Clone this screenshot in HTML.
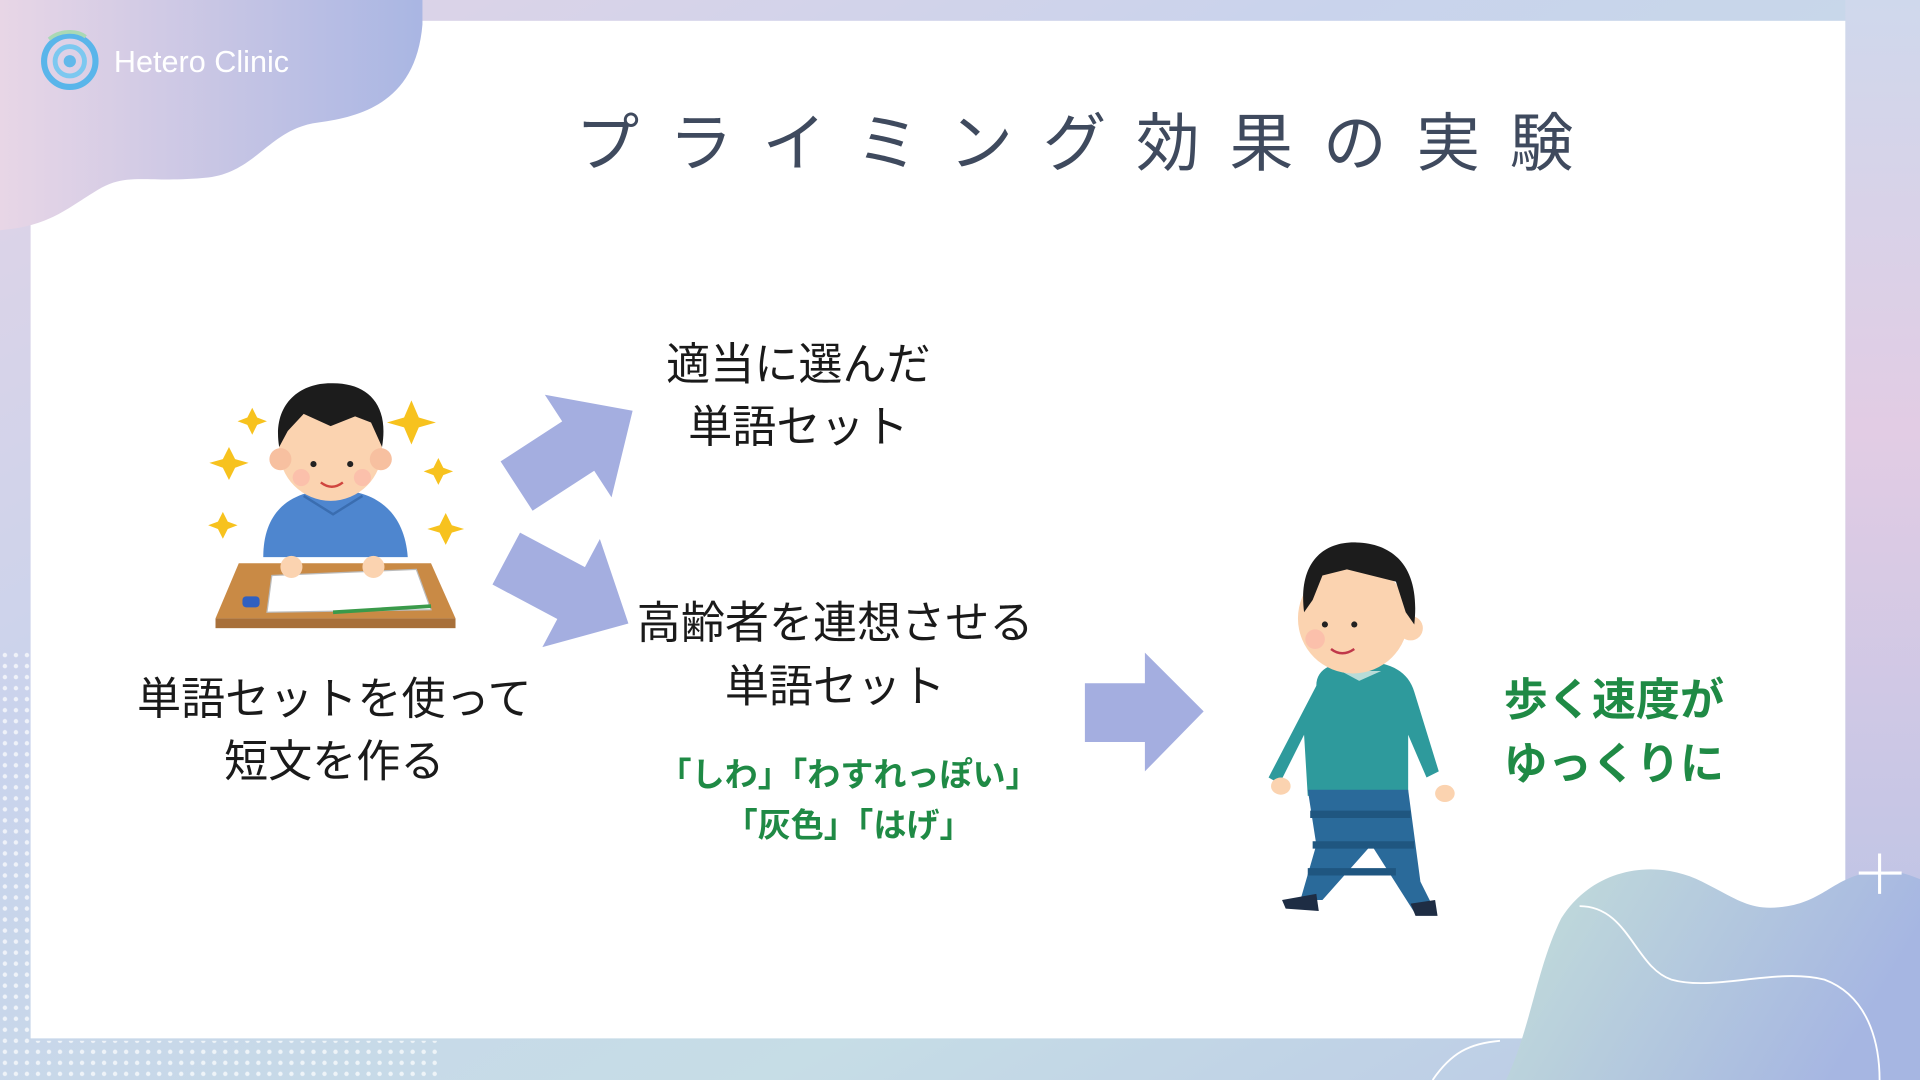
<!DOCTYPE html>
<html><head><meta charset="utf-8"><style>
html,body{margin:0;padding:0;width:1920px;height:1080px;overflow:hidden;background:#fff}
svg{display:block}
text{font-family:"Liberation Sans","Noto Sans CJK JP",sans-serif}
</style></head><body>
<svg width="1920" height="1080" viewBox="0 0 1568 882" xmlns="http://www.w3.org/2000/svg">
<defs>
<linearGradient id="bg" x1="0" y1="0" x2="1" y2="1">
<stop offset="0" stop-color="#e3d3e6"/><stop offset="0.35" stop-color="#c9d3ec"/><stop offset="0.7" stop-color="#c6dde6"/><stop offset="1" stop-color="#b9c6e6"/>
</linearGradient>
<linearGradient id="tl" x1="0" y1="0" x2="1" y2="0">
<stop offset="0" stop-color="#e8d6e6"/><stop offset="1" stop-color="#a9b6e3"/>
</linearGradient>
<linearGradient id="br" x1="0" y1="0" x2="1" y2="0.3">
<stop offset="0" stop-color="#c3ded9"/><stop offset="1" stop-color="#a6b6e2"/>
</linearGradient>
<linearGradient id="rs" x1="0" y1="0" x2="0" y2="1">
<stop offset="0" stop-color="#cfd8ec"/><stop offset="0.4" stop-color="#e2cce4"/><stop offset="1" stop-color="#b4c2e6"/>
</linearGradient>
<pattern id="dots" width="9" height="9" patternUnits="userSpaceOnUse"><circle cx="4" cy="4" r="1.8" fill="#fff" opacity="0.7"/></pattern>
</defs>
<rect width="1568" height="882" fill="url(#bg)"/>
<rect x="1507" y="0" width="61" height="882" fill="url(#rs)"/>
<rect x="0" y="530" width="25" height="320" fill="url(#dots)"/>
<rect x="0" y="850" width="360" height="32" fill="url(#dots)"/>
<rect x="25" y="17" width="1482" height="831" fill="#fff"/>
<!-- top-left blob -->
<path d="M0 0 H345 V20 C340 80 300 95 260 100 C220 105 210 140 170 145 C120 150 105 140 80 155 C55 170 40 185 0 188 Z" fill="url(#tl)"/>
<!-- bottom-right blob -->
<path d="M1230 882 C1250 840 1255 790 1275 750 C1300 710 1350 700 1390 720 C1420 735 1430 745 1460 740 C1490 735 1500 715 1530 712 C1550 710 1560 715 1568 718 V882 Z" fill="url(#br)"/>
<path d="M1290 740 C1330 740 1335 790 1365 800 C1400 810 1450 790 1490 800 C1530 815 1535 860 1535 882" fill="none" stroke="#fff" stroke-width="1.5"/>
<path d="M1170 882 C1185 860 1200 852 1225 850" fill="none" stroke="#fff" stroke-width="1.5"/>
<path d="M1535 697 V730 M1518 713 H1553" stroke="#fff" stroke-width="2.5"/>
<!-- logo -->
<circle cx="57" cy="50" r="21" fill="none" stroke="#59b5ea" stroke-width="5"/>
<circle cx="57" cy="50" r="12" fill="none" stroke="#7cc8f0" stroke-width="4"/>
<circle cx="57" cy="50" r="5" fill="#62b8ea"/>
<path d="M40 32 C48 25 62 24 70 30" fill="none" stroke="#a9d9b5" stroke-width="3"/>
<text x="93" y="59" font-size="25" fill="#fff">Hetero Clinic</text>
<!-- title -->
<text x="470" y="135" font-size="52" fill="#3f4a5e" textLength="815" lengthAdjust="spacing">プライミング効果の実験</text>
<!-- arrows -->
<g fill="#a4aee0">
<g transform="translate(468,367) rotate(-33)"><polygon points="-55,-24 5,-24 5,-50 58,0 5,50 5,24 -55,24"/></g>
<g transform="translate(462,482) rotate(28)"><polygon points="-55,-24 5,-24 5,-50 58,0 5,50 5,24 -55,24"/></g>
<polygon points="886,558 935,558 935,533 983,581 935,630 935,606 886,606"/>
</g>
<!-- studying boy -->
<g>
<g fill="#f7c21e">
<path d="M336 327 l6 14 14 4 -14 4 -6 14 -6 -14 -14 -4 14 -4z"/>
<path d="M206 333 l4 8 8 3 -8 3 -4 8 -4 -8 -8 -3 8 -3z"/>
<path d="M187 365 l5 10 11 3 -11 4 -5 10 -5 -10 -11 -4 11 -3z"/>
<path d="M358 374 l4 8 8 3 -8 3 -4 8 -4 -8 -8 -3 8 -3z"/>
<path d="M182 418 l4 8 8 3 -8 3 -4 8 -4 -8 -8 -3 8 -3z"/>
<path d="M364 419 l5 10 10 3 -10 3 -5 10 -5 -10 -10 -3 10 -3z"/>
</g>
<path d="M215 455 C215 415 240 400 272 400 C304 400 330 415 333 455 Z" fill="#4e86cf"/>
<path d="M248 405 L272 420 L296 405" fill="none" stroke="#3a6db0" stroke-width="2"/>
<ellipse cx="270" cy="367" rx="42" ry="42" fill="#fbd3b0"/>
<circle cx="229" cy="375" r="9" fill="#f7c0a0"/><circle cx="311" cy="375" r="9" fill="#f7c0a0"/>
<path d="M228 365 C222 330 245 312 272 313 C300 313 318 330 312 365 L303 345 L290 340 L270 348 L248 338 L235 352 Z" fill="#1c1c1c"/>
<circle cx="256" cy="379" r="2.5" fill="#222"/><circle cx="286" cy="379" r="2.5" fill="#222"/>
<path d="M262 394 Q271 401 280 394" fill="none" stroke="#d0453e" stroke-width="2"/>
<circle cx="246" cy="390" r="7" fill="#fbb4a8" opacity="0.6"/><circle cx="296" cy="390" r="7" fill="#fbb4a8" opacity="0.6"/>
<polygon points="195,460 352,460 372,505 176,505" fill="#c98a45"/>
<rect x="176" y="505" width="196" height="8" fill="#a8703a"/>
<polygon points="222,470 340,465 352,498 218,500" fill="#fff" stroke="#bbb"/>
<path d="M272 500 L352 495" stroke="#3a9a4a" stroke-width="3"/>
<rect x="198" y="487" width="14" height="9" rx="3" fill="#3060c0"/>
<circle cx="238" cy="463" r="9" fill="#fbd3b0"/><circle cx="305" cy="463" r="9" fill="#fbd3b0"/>
</g>
<!-- walking man -->
<g>
<path d="M1075 560 C1075 545 1090 540 1110 540 C1135 540 1150 548 1155 565 L1175 630 L1165 635 L1150 600 L1150 650 L1068 650 L1065 600 L1045 640 L1036 635 Z" fill="#2e9a9c"/>
<path d="M1068 645 L1150 645 L1160 720 L1170 740 L1155 745 L1120 690 L1080 735 L1062 735 L1075 690 Z" fill="#2a6a9a"/>
<path d="M1070 665 H1152 M1072 690 H1155 M1068 712 H1140" stroke="#1f5680" stroke-width="6"/>
<path d="M1047 735 L1075 730 L1077 744 L1050 742 Z" fill="#1e2d44"/>
<path d="M1152 738 L1172 735 L1174 748 L1156 748 Z" fill="#1e2d44"/>
<path d="M1095 548 L1110 556 L1128 548 Z" fill="#b8dcd8"/>
<ellipse cx="1105" cy="505" rx="45" ry="45" fill="#fbd3b0"/>
<circle cx="1152" cy="513" r="10" fill="#fbd3b0"/>
<path d="M1065 500 C1060 460 1080 442 1108 443 C1140 444 1160 465 1155 510 L1148 500 L1140 475 L1120 470 L1100 465 L1080 470 L1072 490 Z" fill="#1c1c1c"/>
<circle cx="1082" cy="510" r="2.5" fill="#222"/><circle cx="1106" cy="510" r="2.5" fill="#222"/>
<path d="M1087 530 Q1096 537 1106 530" fill="none" stroke="#c0384a" stroke-width="2"/>
<circle cx="1074" cy="522" r="8" fill="#fbb4a8" opacity="0.6"/>
<ellipse cx="1046" cy="642" rx="8" ry="7" fill="#fbd3b0"/><ellipse cx="1180" cy="648" rx="8" ry="7" fill="#fbd3b0"/>
</g>
<!-- texts -->
<g fill="#1a1a1a" font-size="36" text-anchor="middle">
<text x="273" y="583">単語セットを使って</text>
<text x="273" y="634">短文を作る</text>
<text x="652" y="310">適当に選んだ</text>
<text x="652" y="361">単語セット</text>
<text x="682" y="521">高齢者を連想させる</text>
<text x="682" y="573">単語セット</text>
</g>
<g fill="#1f8a45" font-weight="bold" text-anchor="middle">
<text x="693" y="642" font-size="27">「しわ」「わすれっぽい」</text>
<text x="693" y="683" font-size="27">「灰色」「はげ」</text>
<text x="1318" y="584" font-size="36">歩く速度が</text>
<text x="1318" y="636" font-size="36">ゆっくりに</text>
</g>
</svg>
</body></html>
